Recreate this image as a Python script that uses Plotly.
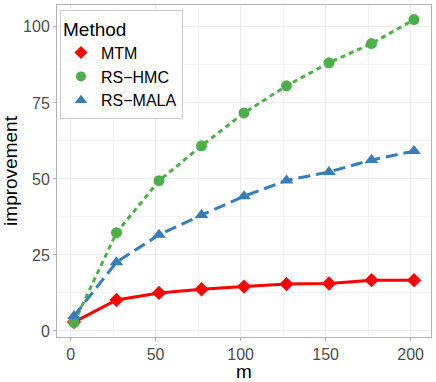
import plotly.graph_objects as go

# Données
m = [2, 27, 52, 77, 102, 127, 152, 177, 202]
mtm = [2.9, 10.2, 12.5, 13.7, 14.6, 15.4, 15.6, 16.7, 16.7]
rs_hmc = [2.7, 32.3, 49.4, 60.9, 71.7, 80.6, 88.2, 94.5, 102.4]
rs_mala = [4.9, 22.6, 31.6, 38.1, 44.3, 49.5, 52.3, 56.2, 59.2]

series = [
    ("MTM", mtm, "#FF0000", "solid", "diamond", 11),
    ("RS\u2212HMC", rs_hmc, "#4DAF4A", "5px,4px", "circle", 11),
    ("RS\u2212MALA", rs_mala, "#377EB8", "12px,6px", "triangle-up", 12),
]

fig = go.Figure()
for name, y, color, dash, symbol, size in series:
    fig.add_trace(go.Scatter(
        x=m, y=y, name=name, mode="lines+markers", showlegend=False,
        line=dict(color=color, width=3, dash=dash),
        marker=dict(color=color, symbol=symbol, size=size),
    ))
    # entrée de légende : symbole seul, comme dans ggplot
    fig.add_trace(go.Scatter(
        x=[None], y=[None], name=name, mode="markers",
        marker=dict(color=color, symbol=symbol, size=size - 1),
    ))

axis_common = dict(
    showgrid=True, gridcolor="#EBEBEB", gridwidth=1,
    zeroline=False, showline=True, linecolor="#B3B3B3", linewidth=1, mirror=True,
    ticks="outside", ticklen=3, tickcolor="#B3B3B3",
    tickfont=dict(size=16, color="#4D4D4D"),
    title_font=dict(size=19, color="black"),
    automargin=False,
)

fig.update_xaxes(
    range=[-8, 212], tickvals=[0, 50, 100, 150, 200], title_text="m",
    title_standoff=4,
    minor=dict(tickvals=[25, 75, 125, 175], showgrid=True, gridcolor="#F4F4F4", ticks=""),
    **axis_common,
)
fig.update_yaxes(
    range=[-2, 107.2], tickvals=[0, 25, 50, 75, 100], title_text="improvement",
    title_standoff=4,
    minor=dict(tickvals=[12.5, 37.5, 62.5, 87.5], showgrid=True, gridcolor="#F4F4F4", ticks=""),
    **axis_common,
)

fig.update_layout(
    width=436, height=382,
    margin=dict(l=57, r=5, t=5, b=45),
    plot_bgcolor="white", paper_bgcolor="white",
    font=dict(family="Liberation Sans, Arial, sans-serif"),
    legend=dict(
        x=0.008, y=0.985, xanchor="left", yanchor="top",
        title=dict(text="Method", font=dict(size=19, color="black")),
        font=dict(size=16, color="black"),
        bgcolor="white", bordercolor="#CCCCCC", borderwidth=1,
        tracegroupgap=0, itemwidth=30,
    ),
)

fig.write_html("out.html", config={"displayModeBar": False},
               post_script="document.body.style.margin='0';")
